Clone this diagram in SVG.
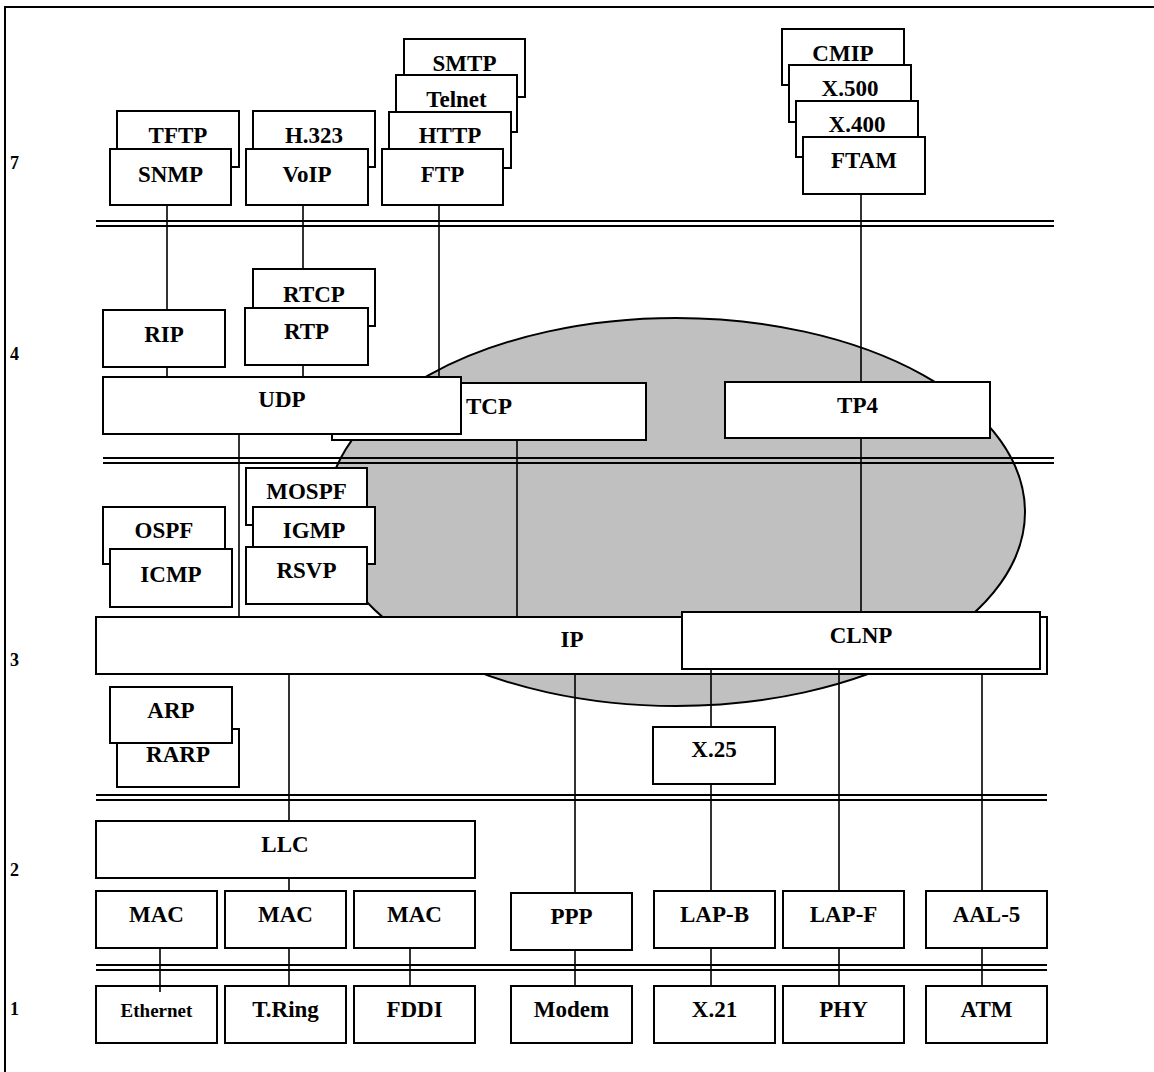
<svg xmlns="http://www.w3.org/2000/svg" width="1154" height="1072" viewBox="0 0 1154 1072">
<style>
.b{fill:#fff;stroke:#000;stroke-width:2}
.t{font-family:"Liberation Serif","Times New Roman",serif;font-weight:bold;font-size:23px;text-anchor:middle;fill:#000}
.l{font-family:"Liberation Serif","Times New Roman",serif;font-weight:bold;font-size:18px;fill:#000}
.c{stroke:#000;stroke-width:1.6;fill:none}
.s{stroke:#000;stroke-width:2;fill:none}
</style>
<rect width="1154" height="1072" fill="#fff"/>
<g id="frame">
<line class="s" x1="5" y1="7" x2="1154" y2="7"/>
<line class="s" x1="5" y1="6" x2="5" y2="1072"/>
</g>
<g id="layer-labels">
<text class="l" x="10" y="169">7</text>
<text class="l" x="10" y="360">4</text>
<text class="l" x="10" y="666">3</text>
<text class="l" x="10" y="876">2</text>
<text class="l" x="10" y="1015">1</text>
</g>
<g id="cloud">
<ellipse cx="676" cy="512" rx="349" ry="194" fill="#c0c0c0" stroke="#000" stroke-width="2"/>
</g>
<g id="separators">
<line class="s" x1="96" y1="221" x2="1054" y2="221"/>
<line class="s" x1="96" y1="226" x2="1054" y2="226"/>
<line class="s" x1="103" y1="458" x2="1054" y2="458"/>
<line class="s" x1="103" y1="463" x2="1054" y2="463"/>
<line class="s" x1="96" y1="795" x2="1047" y2="795"/>
<line class="s" x1="96" y1="800" x2="1047" y2="800"/>
<line class="s" x1="96" y1="965" x2="1047" y2="965"/>
<line class="s" x1="96" y1="970" x2="1047" y2="970"/>
</g>
<g id="n-tftp"><rect class="b" x="117" y="111" width="122" height="56"/><text class="t" x="178" y="143">TFTP</text></g>
<g id="n-snmp"><rect class="b" x="110" y="149" width="121" height="56"/><text class="t" x="170.5" y="182">SNMP</text></g>
<g id="n-h323"><rect class="b" x="253" y="111" width="122" height="56"/><text class="t" x="314" y="143">H.323</text></g>
<g id="n-voip"><rect class="b" x="246" y="149" width="122" height="56"/><text class="t" x="307" y="182">VoIP</text></g>
<g id="n-smtp"><rect class="b" x="404" y="39" width="121" height="58"/><text class="t" x="464.5" y="71">SMTP</text></g>
<g id="n-telnet"><rect class="b" x="396" y="75" width="121" height="57"/><text class="t" x="456.5" y="107">Telnet</text></g>
<g id="n-http"><rect class="b" x="389" y="112" width="122" height="56"/><text class="t" x="450" y="143">HTTP</text></g>
<g id="n-ftp"><rect class="b" x="382" y="149" width="121" height="56"/><text class="t" x="442.5" y="182">FTP</text></g>
<g id="n-cmip"><rect class="b" x="782" y="29" width="122" height="56"/><text class="t" x="843" y="61">CMIP</text></g>
<g id="n-x500"><rect class="b" x="789" y="65" width="122" height="57"/><text class="t" x="850" y="96">X.500</text></g>
<g id="n-x400"><rect class="b" x="796" y="101" width="122" height="56"/><text class="t" x="857" y="132">X.400</text></g>
<g id="n-ftam"><rect class="b" x="803" y="137" width="122" height="57"/><text class="t" x="864" y="168">FTAM</text></g>
<g id="n-rtcp"><rect class="b" x="253" y="269" width="122" height="57"/><text class="t" x="314" y="302">RTCP</text></g>
<g id="n-rtp"><rect class="b" x="245" y="308" width="123" height="57"/><text class="t" x="306.5" y="339">RTP</text></g>
<g id="n-rip"><rect class="b" x="103" y="310" width="122" height="57"/><text class="t" x="164" y="342">RIP</text></g>
<g id="n-tcp"><rect class="b" x="332" y="383" width="314" height="57"/><text class="t" x="489" y="414">TCP</text></g>
<g id="n-udp"><rect class="b" x="103" y="377" width="358" height="57"/><text class="t" x="282" y="407">UDP</text></g>
<g id="n-tp4"><rect class="b" x="725" y="382" width="265" height="56"/><text class="t" x="857.5" y="413">TP4</text></g>
<g id="n-mospf"><rect class="b" x="246" y="468" width="121" height="57"/><text class="t" x="306.5" y="499">MOSPF</text></g>
<g id="n-igmp"><rect class="b" x="253" y="507" width="122" height="57"/><text class="t" x="314" y="538">IGMP</text></g>
<g id="n-rsvp"><rect class="b" x="246" y="547" width="121" height="57"/><text class="t" x="306.5" y="578">RSVP</text></g>
<g id="n-ospf"><rect class="b" x="103" y="507" width="122" height="57"/><text class="t" x="164" y="538">OSPF</text></g>
<g id="n-icmp"><rect class="b" x="110" y="549" width="122" height="58"/><text class="t" x="171" y="582">ICMP</text></g>
<g id="n-ip"><rect class="b" x="96" y="617" width="951" height="57"/><text class="t" x="572" y="647">IP</text></g>
<g id="n-clnp"><rect class="b" x="682" y="612" width="358" height="57"/><text class="t" x="861" y="643">CLNP</text></g>
<g id="n-rarp"><rect class="b" x="117" y="729" width="122" height="58"/><text class="t" x="178" y="762">RARP</text></g>
<g id="n-arp"><rect class="b" x="110" y="687" width="122" height="56"/><text class="t" x="171" y="718">ARP</text></g>
<g id="n-x25"><rect class="b" x="653" y="727" width="122" height="57"/><text class="t" x="714" y="757">X.25</text></g>
<g id="n-llc"><rect class="b" x="96" y="821" width="379" height="57"/><text class="t" x="285" y="852">LLC</text></g>
<g id="n-mac1"><rect class="b" x="96" y="891" width="121" height="57"/><text class="t" x="156.5" y="922">MAC</text></g>
<g id="n-mac2"><rect class="b" x="225" y="891" width="121" height="57"/><text class="t" x="285.5" y="922">MAC</text></g>
<g id="n-mac3"><rect class="b" x="354" y="891" width="121" height="57"/><text class="t" x="414.5" y="922">MAC</text></g>
<g id="n-ppp"><rect class="b" x="511" y="893" width="121" height="57"/><text class="t" x="571.5" y="924">PPP</text></g>
<g id="n-lapb"><rect class="b" x="654" y="891" width="121" height="57"/><text class="t" x="714.5" y="922">LAP-B</text></g>
<g id="n-lapf"><rect class="b" x="783" y="891" width="121" height="57"/><text class="t" x="843.5" y="922">LAP-F</text></g>
<g id="n-aal5"><rect class="b" x="926" y="891" width="121" height="57"/><text class="t" x="986.5" y="922">AAL-5</text></g>
<g id="n-ethernet"><rect class="b" x="96" y="986" width="121" height="57"/><text class="t" x="156.5" y="1017" style="font-size:19px">Ethernet</text></g>
<g id="n-tring"><rect class="b" x="225" y="986" width="121" height="57"/><text class="t" x="285.5" y="1017">T.Ring</text></g>
<g id="n-fddi"><rect class="b" x="354" y="986" width="121" height="57"/><text class="t" x="414.5" y="1017">FDDI</text></g>
<g id="n-modem"><rect class="b" x="511" y="986" width="121" height="57"/><text class="t" x="571.5" y="1017">Modem</text></g>
<g id="n-x21"><rect class="b" x="654" y="986" width="121" height="57"/><text class="t" x="714.5" y="1017">X.21</text></g>
<g id="n-phy"><rect class="b" x="783" y="986" width="121" height="57"/><text class="t" x="843.5" y="1017">PHY</text></g>
<g id="n-atm"><rect class="b" x="926" y="986" width="121" height="57"/><text class="t" x="986.5" y="1017">ATM</text></g>
<g id="connectors">
<path class="c" d="M167 205V310M167 367V377"/>
<path class="c" d="M303 205V269M303 365V377"/>
<path class="c" d="M439 205V377"/>
<path class="c" d="M861 194V382M861 438V612"/>
<path class="c" d="M239 434V617"/>
<path class="c" d="M517 440V617"/>
<path class="c" d="M289 674V821M289 878V891M289 948V986"/>
<path class="c" d="M575 674V893M575 950V986"/>
<path class="c" d="M711 669V727M711 784V891M711 948V986"/>
<path class="c" d="M839 669V891M839 948V986"/>
<path class="c" d="M982 674V891M982 948V986"/>
<path class="c" d="M160 948V992"/>
<path class="c" d="M410 948V986"/>
</g>
</svg>
